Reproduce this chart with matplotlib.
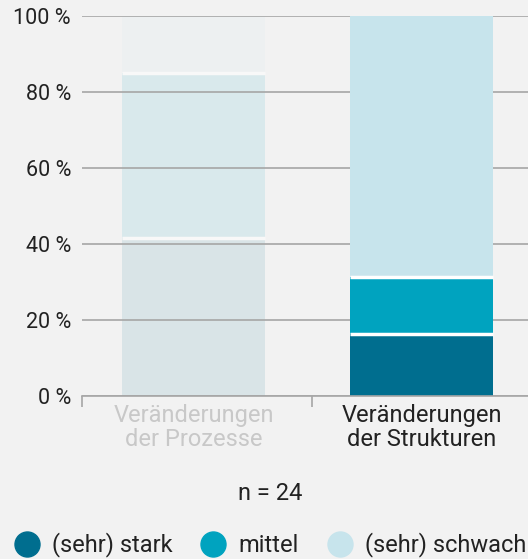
import numpy as np
import matplotlib.pyplot as plt
from matplotlib.colors import to_rgba
from matplotlib.lines import Line2D

categories = ["Veränderungen\nder Prozesse", "Veränderungen\nder Strukturen"]
series = ["(sehr) stark", "mittel", "(sehr) schwach"]
stark = [41.7, 16.3]
mittel = [43.3, 15.0]
schwach = [15.0, 68.7]
faded = [True, False]
colors = ["#006e8f", "#00a3bf", "#c7e4ec"]

plt.rcParams['font.family'] = ['Roboto', 'DejaVu Sans']
bg = "#f2f2f2"
width = 0.63
fig = plt.figure(figsize=(5.28, 5.59), dpi=100, facecolor=bg)
ax = fig.add_axes([82/528, 1-396/559, 1-82/528, 380/559], facecolor=bg)

x = np.arange(len(categories))
bottom = np.zeros(len(categories))
for vals, col in zip([stark, mittel, schwach], colors):
    for i in range(len(categories)):
        z = 1 if faded[i] else 3
        ax.bar(x[i], vals[i], bottom=bottom[i], width=width,
               color=to_rgba(col, 0.1 if faded[i] else 1.0), linewidth=0, zorder=z)
        if bottom[i] > 0:
            ax.hlines(bottom[i], x[i] - width/2, x[i] + width/2,
                      color="#f8f8f8" if faded[i] else "white", linewidth=2.5, zorder=z + 0.5)
    bottom += np.array(vals)

ax.set_ylim(0, 100)
ax.set_xlim(-0.49, 1.467)
ax.set_yticks([0, 20, 40, 60, 80, 100])
ax.set_yticklabels([f"{v} %" for v in [0, 20, 40, 60, 80, 100]], fontsize=15.5, color="#222222")
ax.tick_params(axis='y', length=0, pad=8)
ax.yaxis.grid(True, color="#a6a6a6", linewidth=1.2)
for g in ax.get_ygridlines():
    g.set_zorder(2)

ax.set_xticks(x)
ax.set_xticklabels(categories, fontsize=17, linespacing=1.05)
for lbl, f in zip(ax.get_xticklabels(), faded):
    lbl.set_color("#c8c8c8" if f else "#222222")
ax.set_xticks([-0.49, 0.52], minor=True)
ax.tick_params(axis='x', which='major', length=0, pad=6)
ax.tick_params(axis='x', which='minor', length=8, color="#a6a6a6", width=1.2)

for s in ["top", "right", "left"]:
    ax.spines[s].set_visible(False)
ax.spines["bottom"].set_color("#a6a6a6")
ax.spines["bottom"].set_linewidth(1.2)
ax.spines["bottom"].set_zorder(4)

fig.text(270/528, 1-493/559, "n = 24", ha="center", va="center", fontsize=17, color="#222222")

handles = [Line2D([], [], marker="o", linestyle="none", markersize=18, markerfacecolor=c,
                  markeredgecolor=c) for c in colors]
fig.legend(handles, series, loc="center", bbox_to_anchor=(0.51, 1-545/559), ncol=3,
           frameon=False, fontsize=17, handletextpad=0.45, columnspacing=1.15,
           handlelength=1.2, borderaxespad=0, borderpad=0, labelcolor="#222222")

fig.savefig("out.png", dpi=100, facecolor=bg)
